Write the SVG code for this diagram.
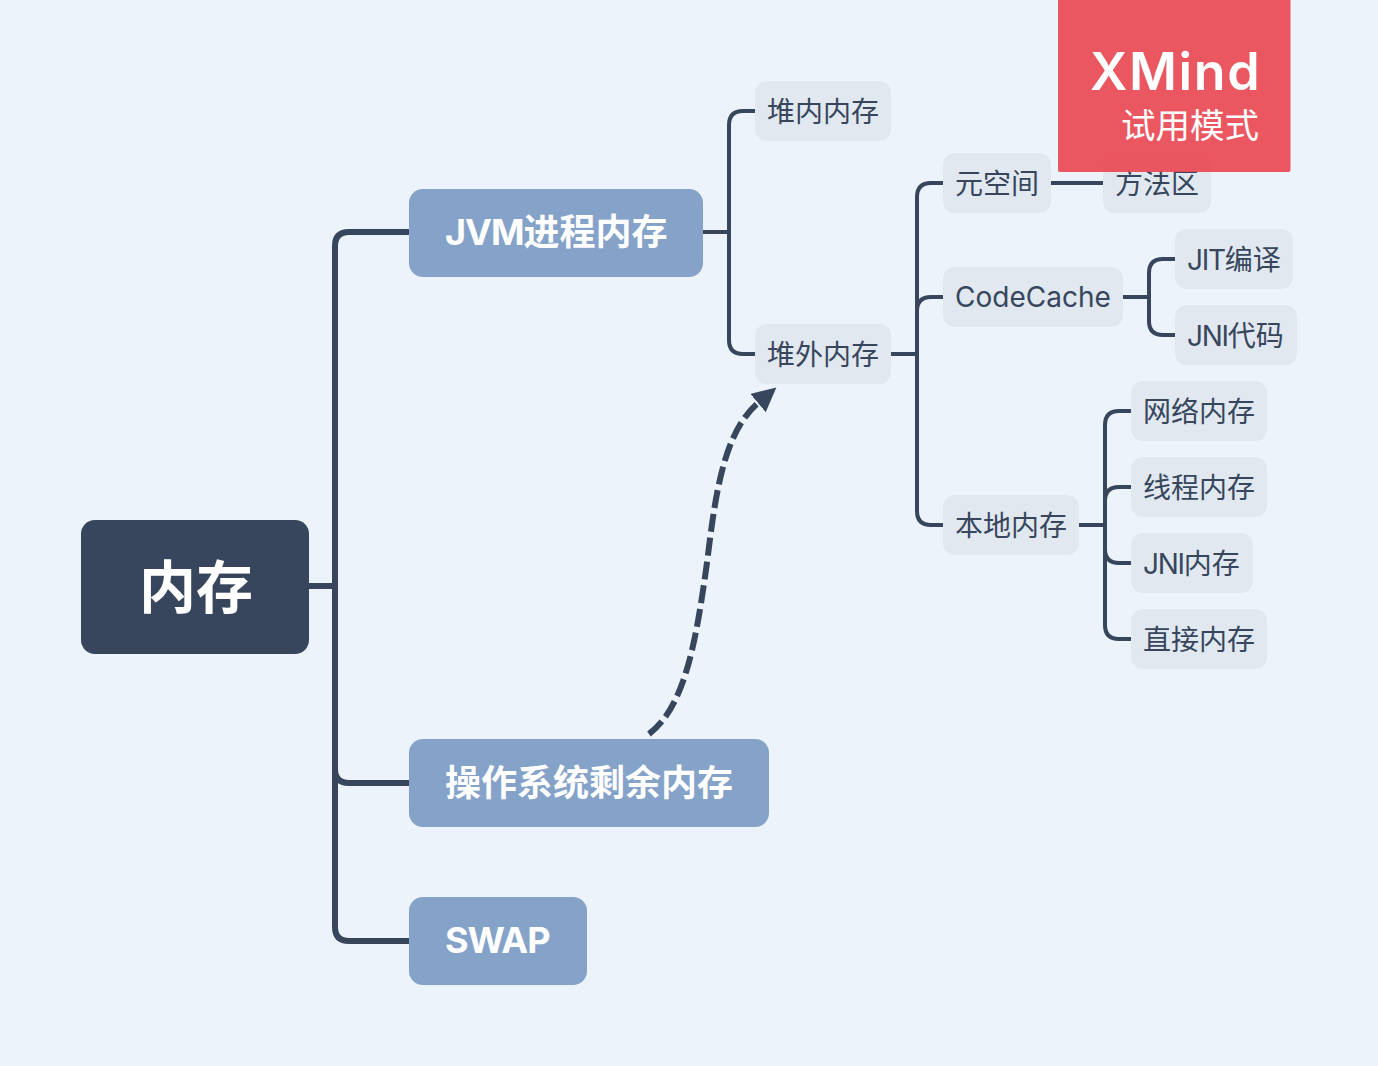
<svg xmlns="http://www.w3.org/2000/svg" width="1378" height="1066" viewBox="0 0 1378 1066">
<defs>
<marker id="arrow" markerUnits="userSpaceOnUse" markerWidth="30" markerHeight="30" refX="0" refY="12" orient="auto"><path d="M0 0L24 12L0 24Z" fill="#37465C"/></marker>
</defs>
<style>
text{font-family:Inter,"Noto Sans CJK SC",sans-serif;}
.c{fill:none;stroke:#37465C;stroke-width:4;}
.c1{fill:none;stroke:#37465C;stroke-width:6;}
.l rect{fill:#E1E8F0;}
.l text{fill:#37465C;font-size:28px;}
.m rect{fill:#85A2C9;}
.m text{fill:#fff;font-size:36px;font-weight:700;}
.t{letter-spacing:-1.3px;}
.b{letter-spacing:-1px;}
</style>
<rect width="1378" height="1066" fill="#ECF3FA"/>
<g id="connectors">
<path class="c1" d="M309 586H335M409 232H349Q335 232 335 246V927Q335 941 349 941H409M335 769Q335 783 349 783H409"/>
<path class="c" d="M703 232H729M755 111H743Q729 111 729 125V340Q729 354 743 354H755"/>
<path class="c" d="M891 354H917M943 183H931Q917 183 917 197V511Q917 525 931 525H943M917 311Q917 297 931 297H943"/>
<path class="c" d="M1051 183H1103"/>
<path class="c" d="M1123 297H1149M1175 259H1163Q1149 259 1149 273V321Q1149 335 1163 335H1175"/>
<path class="c" d="M1079 525H1105M1131 411H1119Q1105 411 1105 425V625Q1105 639 1119 639H1131M1105 501Q1105 487 1119 487H1131M1105 549Q1105 563 1119 563H1131"/>
<path d="M649 734C685 707 696 640 706 570C714 510 720 435 758 403" fill="none" stroke="#37465C" stroke-width="6" stroke-dasharray="18 6" marker-end="url(#arrow)"/>
</g>
<g id="root"><rect x="81" y="520" width="228" height="134" rx="14" fill="#37465C"/><text x="196" y="608" text-anchor="middle" fill="#fff" font-size="57" font-weight="700">内存</text></g>
<g id="jvm" class="m"><rect x="409" y="189" width="294" height="88" rx="14"/><text x="445" y="245"><tspan class="b">JVM</tspan>进程内存</text></g>
<g id="os" class="m"><rect x="409" y="739" width="360" height="88" rx="14"/><text x="445" y="796">操作系统剩余内存</text></g>
<g id="swap" class="m"><rect x="409" y="897" width="178" height="88" rx="14"/><text x="445" y="953" class="b">SWAP</text></g>
<g id="heap" class="l"><rect x="755" y="81" width="136" height="60" rx="12"/><text x="767" y="122">堆内内存</text></g>
<g id="offheap" class="l"><rect x="755" y="324" width="136" height="60" rx="12"/><text x="767" y="365">堆外内存</text></g>
<g id="meta" class="l"><rect x="943" y="153" width="108" height="60" rx="12"/><text x="955" y="194">元空间</text></g>
<g id="method" class="l"><rect x="1103" y="153" width="108" height="60" rx="12"/><text x="1115" y="194">方法区</text></g>
<g id="codecache" class="l"><rect x="943" y="267" width="180" height="60" rx="12"/><text x="955" y="307">CodeCache</text></g>
<g id="jit" class="l"><rect x="1175" y="229" width="118" height="60" rx="12"/><text x="1187" y="270"><tspan class="t">JIT</tspan>编译</text></g>
<g id="jni" class="l"><rect x="1175" y="305" width="122" height="60" rx="12"/><text x="1187" y="346"><tspan class="t">JNI</tspan>代码</text></g>
<g id="native" class="l"><rect x="943" y="495" width="136" height="60" rx="12"/><text x="955" y="536">本地内存</text></g>
<g id="net" class="l"><rect x="1131" y="381" width="136" height="60" rx="12"/><text x="1143" y="422">网络内存</text></g>
<g id="thread" class="l"><rect x="1131" y="457" width="136" height="60" rx="12"/><text x="1143" y="498">线程内存</text></g>
<g id="jnimem" class="l"><rect x="1131" y="533" width="122" height="60" rx="12"/><text x="1143" y="574"><tspan class="t">JNI</tspan>内存</text></g>
<g id="direct" class="l"><rect x="1131" y="609" width="136" height="60" rx="12"/><text x="1143" y="650">直接内存</text></g>
<g id="watermark"><rect x="1058" y="-4" width="232.500" height="176" rx="2" fill="#EB4A55" fill-opacity="0.93"/><text x="1090" y="90" fill="#fff" font-size="52" font-weight="600" letter-spacing="1.600">XMind</text><text x="1259" y="138" text-anchor="end" fill="#fff" font-size="34.500">试用模式</text></g>
</svg>
